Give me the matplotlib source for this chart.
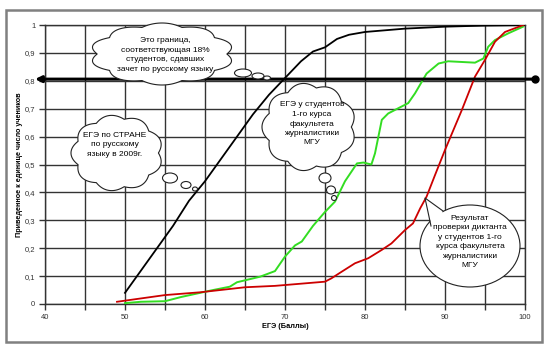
import numpy as np
import matplotlib
matplotlib.use("Agg")
import matplotlib.pyplot as plt
from matplotlib.patches import Polygon, Ellipse, Rectangle

plt.rcParams['font.family'] = ['Liberation Sans', 'DejaVu Sans']

# ---- data ----
x_black = [50, 52, 54, 56, 58, 60, 62, 64, 66, 68, 70, 72, 73.5, 75, 76.5, 78, 80, 85, 90, 95, 100]
y_black = [0.04, 0.12, 0.20, 0.28, 0.37, 0.44, 0.52, 0.60, 0.68, 0.75, 0.81, 0.87, 0.905, 0.92,
           0.95, 0.965, 0.975, 0.987, 0.994, 0.998, 1.0]

x_green = [50, 52, 55, 57, 59.4, 61, 63.1, 64, 66.9, 68.75, 70, 71.25, 72.1, 73.5, 75, 76.25, 77.5,
           79, 79.8, 80.8, 81.25, 82.1, 82.9, 85.4, 86.25, 87.7, 89.2, 90.4, 93.75, 94.8, 95.4,
           96.25, 97.9, 99.75]
y_green = [0.003, 0.008, 0.01, 0.025, 0.04, 0.05, 0.062, 0.078, 0.098, 0.118, 0.17, 0.21, 0.224,
           0.28, 0.33, 0.367, 0.44, 0.504, 0.507, 0.50, 0.54, 0.66, 0.683, 0.72, 0.755, 0.826,
           0.862, 0.87, 0.865, 0.88, 0.922, 0.946, 0.97, 0.994]

x_red = [49, 50, 55, 59.4, 65, 68.75, 75, 75.8, 77.1, 78.75, 80.4, 82.1, 83.3, 85, 86, 86.9, 87.7,
         88.75, 90, 92.1, 93.75, 95, 96.25, 97.5, 99.8]
y_red = [0.008, 0.012, 0.032, 0.042, 0.06, 0.065, 0.08, 0.092, 0.116, 0.146, 0.164, 0.194, 0.217,
         0.265, 0.289, 0.343, 0.385, 0.462, 0.552, 0.695, 0.815, 0.875, 0.94, 0.975, 1.0]

threshold = 0.806

x_ticks = [40, 50, 60, 70, 80, 90, 100]
y_ticks = [0, 0.1, 0.2, 0.3, 0.4, 0.5, 0.6, 0.7, 0.8, 0.9, 1]
y_tick_labels = ["0", "0,1", "0,2", "0,3", "0,4", "0,5", "0,6", "0,7", "0,8", "0,9", "1"]

x_label = "ЕГЭ (Баллы)"
y_label = "Приведенное к единице число учеников"

note_border = "Это граница,\nсоответствующая 18%\nстудентов, сдавших\nзачет по русскому языку"
note_country = "ЕГЭ по СТРАНЕ\nпо русскому\nязыку в 2009г."
note_msu = "ЕГЭ у студентов\n1-го курса\nфакультета\nжурналистики\nМГУ"
note_dict = "Результат\nпроверки диктанта\nу студентов 1-го\nкурса факультета\nжурналистики\nМГУ"

# ---- figure ----
W, H = 550, 353
fig = plt.figure(figsize=(W / 100, H / 100), dpi=100)
fig.patch.set_facecolor('white')

ax = fig.add_axes([45 / W, (H - 304) / H, 480 / W, 279 / H])
ax.set_xlim(40, 100)
ax.set_ylim(0, 1)
ax.plot(x_black, y_black, color='black', lw=1.3, zorder=3)
ax.plot(x_green, y_green, color='#33dd22', lw=1.4, zorder=3)
ax.plot(x_red, y_red, color='#cc0000', lw=1.3, zorder=3)

ax.set_xticks(x_ticks)
ax.set_xticks([45, 55, 65, 75, 85, 95], minor=True)
ax.set_yticks(y_ticks)
ax.set_yticklabels(y_tick_labels)
ax.grid(True, which='both', color='#333333', lw=1.0)
ax.set_axisbelow(True)
ax.tick_params(which='both', direction='out', length=4, width=1, color='#333333',
               labelsize=5.5, labelcolor='#333333', pad=3)
for s in ax.spines.values():
    s.set_color('#333333')
    s.set_linewidth(1.0)
ax.set_xlabel(x_label, fontsize=5.3, fontweight='bold')
ax.set_ylabel(y_label, fontsize=5.2, fontweight='bold')
ax.xaxis.set_label_coords(0.5, -(327 - 304) / 279)
ax.yaxis.set_label_coords(-(45 - 20) / 480, 0.5)
ax.xaxis.label.set_va('center')
ax.yaxis.label.set_va('center')

# threshold arrow line
ax.annotate('', xy=(38.75, threshold), xytext=(101.25, threshold), xycoords='data',
            arrowprops=dict(arrowstyle='-|>', color='black', lw=2.2, mutation_scale=9,
                            shrinkA=0, shrinkB=0), annotation_clip=False, zorder=5)
ax.plot([101.25], [threshold], 'o', color='black', ms=5, clip_on=False, zorder=5)

# ---- overlay (pixel coordinates) ----
ov = fig.add_axes([0, 0, 1, 1])
ov.set_xlim(0, W)
ov.set_ylim(H, 0)
ov.axis('off')
ov.patch.set_alpha(0)

ov.add_patch(Rectangle((6, 10), 536, 332, fill=False, edgecolor='#808080', lw=1.8))


def cloud(cx, cy, hw, hh, n=9, k=0.10):
    t = np.linspace(0, 2 * np.pi, 800)
    f = (1 - k) + k * np.abs(np.sin(n * t / 2))
    xs = cx + hw * f * np.cos(t)
    ys = cy + hh * f * np.sin(t)
    ov.add_patch(Polygon(np.column_stack([xs, ys]), closed=True, facecolor='white',
                         edgecolor='#222222', lw=0.8, zorder=6))


def bubble(cx, cy, w, h):
    ov.add_patch(Ellipse((cx, cy), w, h, facecolor='white', edgecolor='#222222', lw=0.8, zorder=6))


tkw = dict(ha='center', va='center', fontsize=6, color='black', linespacing=1.5, zorder=7)

cloud(162, 54, 72, 31, n=10)
bubble(243, 73, 17, 8)
bubble(258, 76, 12, 6)
bubble(267, 78, 7, 4)
ov.text(165, 55, note_border, **tkw)

cloud(117, 153, 46, 38, n=9)
bubble(170, 178, 15, 10)
bubble(186, 185, 10, 7)
bubble(195, 189, 5, 4)
ov.text(115, 145, note_country, **tkw)

cloud(309, 127, 47, 44, n=9)
bubble(325, 178, 12, 10)
bubble(331, 190, 9, 8)
bubble(334, 198, 5, 5)
ov.text(312, 124, note_msu, **tkw)

# speech-bubble callout
ov.add_patch(Ellipse((470, 246), 100, 82, facecolor='white', edgecolor='#222222', lw=0.8, zorder=6))
ov.add_patch(Polygon([[443, 212], [425, 198], [432, 228]], closed=True, facecolor='white',
                     edgecolor='none', zorder=6.5))
ov.plot([443, 425, 431], [211, 198, 226], color='#222222', lw=0.8, zorder=6.6)
ov.text(470, 242, note_dict, **tkw)

fig.savefig('out.png', dpi=100)
